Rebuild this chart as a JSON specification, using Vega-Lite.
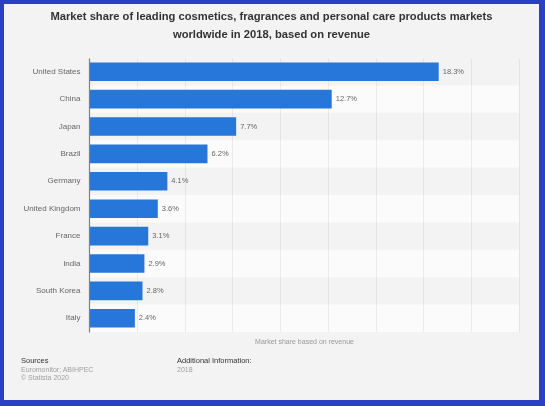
{
  "$schema": "https://vega.github.io/schema/vega-lite/v6.json",
  "background": "#2a3fc4",
  "padding": {"left": 4, "top": 4, "right": 6, "bottom": 6},
  "datasets": {
    "markets": [
      {"country": "United States", "share": 0.183},
      {"country": "China", "share": 0.127},
      {"country": "Japan", "share": 0.077},
      {"country": "Brazil", "share": 0.062},
      {"country": "Germany", "share": 0.041},
      {"country": "United Kingdom", "share": 0.036},
      {"country": "France", "share": 0.031},
      {"country": "India", "share": 0.029},
      {"country": "South Korea", "share": 0.028},
      {"country": "Italy", "share": 0.024}
    ]
  },
  "spacing": 0,
  "vconcat": [
    {
      "width": 535,
      "height": 344,
      "title": {
        "text": ["Market share of leading cosmetics, fragrances and personal care products markets", "worldwide in 2018, based on revenue"],
        "anchor": "middle",
        "fontSize": 11.2,
        "fontWeight": "bold",
        "color": "#333333",
        "lineHeight": 18,
        "offset": -36
      },
      "data": {"name": "markets"},
      "transform": [{"window": [{"op": "row_number", "as": "row"}]}],
      "encoding": {
        "y": {
          "field": "country",
          "type": "nominal",
          "sort": null,
          "scale": {"range": [54, 328], "paddingInner": 0, "paddingOuter": 0},
          "axis": {
            "title": null,
            "offset": -85,
            "ticks": false,
            "labelPadding": 9,
            "labelFontSize": 8,
            "labelColor": "#666666",
            "domainColor": "#808080",
            "domainWidth": 1.2,
            "grid": false
          }
        }
      },
      "layer": [
        {
          "mark": {"type": "rect", "blend": "color-dodge"},
          "encoding": {
            "x": {"datum": 0, "type": "quantitative"},
            "x2": {"datum": 0.225},
            "fill": {
              "condition": {"test": "datum.row % 2 == 0", "value": "#080808"},
              "value": "#000000"
            }
          }
        },
        {
          "mark": {"type": "bar", "height": {"band": 0.68}, "color": "#2777da"},
          "encoding": {
            "x": {
              "field": "share",
              "type": "quantitative",
              "scale": {"domain": [0, 0.225], "rangeMin": 85, "rangeMax": 515, "nice": false},
              "axis": {
                "orient": "top",
                "labels": false,
                "ticks": false,
                "domain": false,
                "grid": true,
                "values": [0, 0.025, 0.05, 0.075, 0.1, 0.125, 0.15, 0.175, 0.2, 0.225],
                "gridColor": "#e4e4e4",
                "title": "Market share based on revenue",
                "titleFontSize": 7,
                "titleFontWeight": "normal",
                "titleColor": "#999999",
                "titleBaseline": "middle",
                "titleY": 337
              }
            }
          }
        },
        {
          "mark": {"type": "text", "align": "left", "dx": 4, "fontSize": 7.5, "color": "#666666"},
          "encoding": {
            "x": {"field": "share", "type": "quantitative"},
            "text": {"field": "share", "type": "quantitative", "format": ".1%"}
          }
        }
      ]
    },
    {
      "spacing": 0,
      "hconcat": [
        {
          "width": 173,
          "height": 52,
          "data": {"values": [{}]},
          "mark": {"type": "rect", "color": "#f3f3f3"},
          "encoding": {},
          "title": {
            "text": "Sources",
            "subtitle": ["Euromonitor; ABIHPEC", "© Statista 2020"],
            "anchor": "start",
            "frame": "group",
            "dx": 17,
            "offset": -33,
            "fontSize": 7.5,
            "fontWeight": "normal",
            "color": "#333333",
            "subtitleFontSize": 7,
            "subtitleColor": "#a0a0a0",
            "subtitlePadding": 1,
            "subtitleLineHeight": 8.3
          }
        },
        {
          "width": 362,
          "height": 52,
          "data": {"values": [{}]},
          "mark": {"type": "rect", "color": "#f3f3f3"},
          "encoding": {},
          "title": {
            "text": "Additional Information:",
            "subtitle": ["2018"],
            "anchor": "start",
            "frame": "group",
            "dx": 0,
            "offset": -24.7,
            "fontSize": 7.5,
            "fontWeight": "normal",
            "color": "#333333",
            "subtitleFontSize": 7,
            "subtitleColor": "#a0a0a0",
            "subtitlePadding": 1,
            "subtitleLineHeight": 8.3
          }
        }
      ]
    }
  ],
  "config": {
    "font": "Liberation Sans",
    "view": {"stroke": null, "fill": "#f3f3f3"}
  }
}
